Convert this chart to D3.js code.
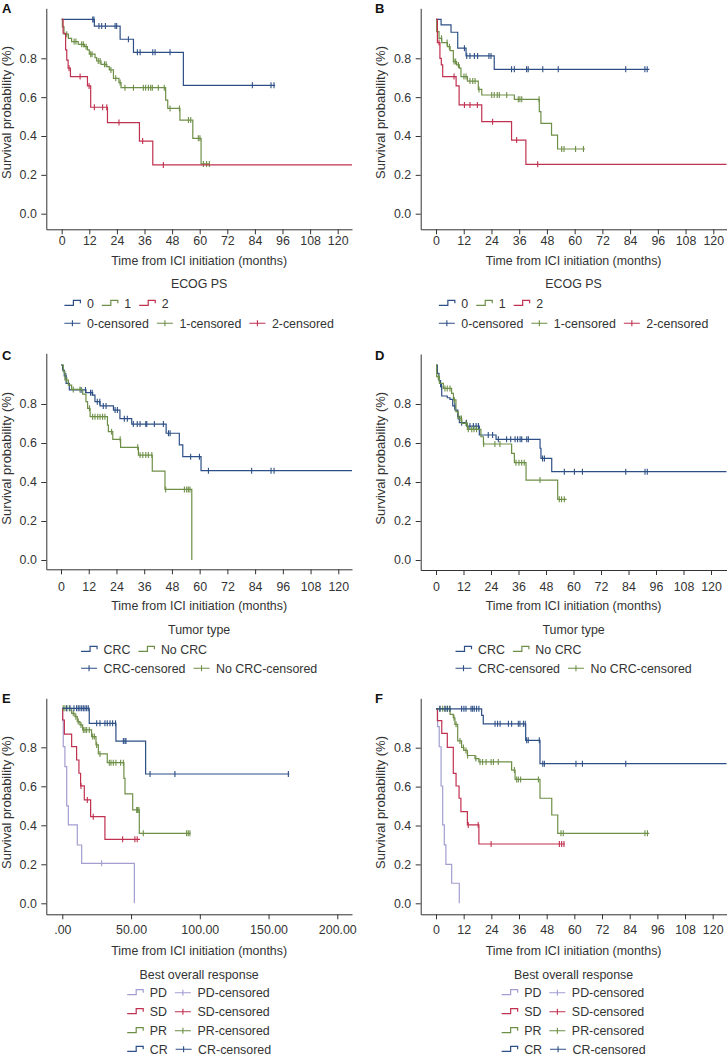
<!DOCTYPE html>
<html>
<head>
<meta charset="utf-8">
<script src="https://cdn.jsdelivr.net/npm/d3@7"></script>
<style>
body { margin: 0; background: #fff; }
svg text { font-family: "Liberation Sans", Arial, sans-serif; fill: #333; }
</style>
</head>
<body>
<script>
// ---------- data ----------
const monthTicks = [0, 12, 24, 36, 48, 60, 72, 84, 96, 108, 120];
const monthLabels = ["0", "12", "24", "36", "48", "60", "72", "84", "96", "108", "120"];
const monthTicksE = [0, 50, 100, 150, 200];
const monthLabelsE = [".00", "50.00", "100.00", "150.00", "200.00"];
const survTicks = [0, 0.2, 0.4, 0.6, 0.8];
const xTitle = "Time from ICI initiation (months)";
const yTitle = "Survival probability (%)";

const ecogGroups = ["0", "1", "2"];
const tumorGroups = ["CRC", "No CRC"];
const responseGroups = ["PD", "SD", "PR", "CR"];

// steps: [month, survival from that month on]; last pair = end of follow-up
// censored: months of censor marks

// A - ECOG PS
const aEcog0Steps = [[0,1],[14.2,0.966],[25.4,0.898],[31.2,0.831],[52.9,0.661],[92.8,0.661]];
const aEcog0Censored = [13.5,14.0,16.2,17.4,19.0,23.2,23.9,29.0,32.9,34.1,39.6,40.6,47.1,82.9,91.0,92.3];
const aEcog1Steps = [[0,1],[0.3,0.962],[1.0,0.924],[2.9,0.903],[4.3,0.886],[7.2,0.872],[9.9,0.86],[11.2,0.843],[12.0,0.821],[14.5,0.803],[15.2,0.786],[17.1,0.769],[19.6,0.757],[20.7,0.74],[22.5,0.697],[24.9,0.675],[25.8,0.649],[45.2,0.585],[46.1,0.542],[51.4,0.482],[57.0,0.388],[60.6,0.256],[64.2,0.256]];
const aEcog1Censored = [2.2,5.4,6.2,8.7,9.4,10.6,12.6,13.2,15.9,16.7,18.6,19.3,21.4,23.5,25.4,27.5,31.2,35.5,36.5,37.7,38.7,39.4,42.0,44.6,47.1,51.2,55.1,56.1,59.4,60.1,61.6,63.0,64.2];
const aEcog2Steps = [[0,1],[0.6,0.929],[1.7,0.843],[2.2,0.791],[2.8,0.749],[3.8,0.706],[11.2,0.658],[12.6,0.548],[19.9,0.469],[33.8,0.374],[39.6,0.251],[127,0.251]];
const aEcog2Censored = [3.2,8.0,11.9,14.2,17.8,19.6,24.9,35.2,44.2];

// B - ECOG PS
const bEcog0Steps = [[0,1],[2.2,0.972],[6.5,0.934],[9.4,0.852],[13.0,0.812],[25.2,0.743],[92.3,0.743]];
const bEcog0Censored = [12.3,13.3,14.7,16.6,18.0,22.9,23.8,32.7,33.9,39.2,39.9,46.2,52.9,82.1,90.4,91.4];
const bEcog1Steps = [[0,1],[0.3,0.937],[1.3,0.903],[2.5,0.881],[4.9,0.86],[6.1,0.839],[7.5,0.783],[8.9,0.766],[10.1,0.749],[10.8,0.706],[13.6,0.683],[18.3,0.64],[19.8,0.611],[33.9,0.589],[44.7,0.525],[45.4,0.465],[50.0,0.405],[52.6,0.333],[64.5,0.333]];
const bEcog1Censored = [2.4,4.8,5.8,7.8,8.5,9.7,12.1,13.0,14.7,15.9,16.9,18.6,24.1,25.2,26.5,27.4,30.6,35.6,36.3,37.1,44.6,54.4,55.4,60.4,63.8];
const bEcog2Steps = [[0,1],[0.6,0.881],[1.7,0.8],[2.3,0.766],[2.9,0.706],[8.7,0.658],[10.0,0.56],[19.8,0.474],[32.7,0.379],[38.9,0.254],[127,0.254]];
const bEcog2Censored = [1.3,7.8,12.3,14.7,17.9,24.5,34.9,44.0];

// C - tumor type
const cCrcSteps = [[0,1],[0.7,0.974],[1.4,0.944],[2.2,0.906],[3.6,0.872],[10.8,0.858],[13.7,0.846],[14.7,0.812],[16.9,0.79],[22.7,0.769],[25.5,0.725],[30.6,0.697],[45.5,0.65],[51.2,0.59],[52.7,0.53],[60.6,0.458],[127,0.458]];
const cCrcCensored = [2.1,8.7,10.6,12.8,13.5,15.7,16.8,18.3,19.5,23.4,24.4,27.4,28.7,31.3,33.0,34.2,36.7,37.1,40.4,44.3,46.5,47.2,56.1,59.9,63.8,82.5,90.9,92.2];
const cNoCrcSteps = [[0,1],[1.0,0.966],[1.7,0.923],[3.2,0.897],[4.6,0.875],[9.4,0.851],[10.8,0.812],[11.5,0.778],[12.6,0.735],[20.1,0.692],[20.5,0.658],[22.4,0.619],[25.8,0.578],[33.5,0.538],[39.5,0.456],[45.0,0.362],[56.6,0],[56.6,0]];
const cNoCrcCensored = [2.5,5.3,8.2,12.3,13.7,14.7,15.9,16.9,18.0,19.0,21.9,25.6,33.2,34.2,35.4,36.7,37.8,39.3,45.3,53.4,54.4,55.1,55.8];

// D - tumor type
const dCrcSteps = [[0,1],[0.6,0.957],[1.3,0.92],[2.0,0.889],[2.5,0.841],[4.9,0.832],[6.1,0.824],[7.3,0.79],[8.3,0.769],[9.5,0.735],[10.2,0.704],[13.4,0.687],[18.9,0.641],[26.2,0.619],[45.4,0.573],[45.8,0.521],[50.5,0.453],[127,0.453]];
const dCrcCensored = [2.4,8.2,9.7,11.2,13.3,14.8,16.3,17.5,18.5,22.8,24.7,27.2,30.8,32.6,34.5,35.6,36.7,37.4,39.6,40.3,46.5,47.3,56.0,60.4,63.9,82.8,91.2,92.2];
const dNoCrcSteps = [[0,1],[0.3,0.94],[1.5,0.906],[3.2,0.88],[6.8,0.855],[7.6,0.821],[8.7,0.761],[9.7,0.726],[11.2,0.701],[13.7,0.67],[19.6,0.632],[20.7,0.595],[33.0,0.547],[34.2,0.499],[39.3,0.41],[53.1,0.311],[57.0,0.311]];
const dNoCrcCensored = [1.0,3.9,4.9,6.1,8.0,10.5,11.1,13.1,14.1,15.6,16.6,17.7,20.8,25.7,27.9,34.9,36.2,37.4,38.5,45.4,53.8,54.8,56.0];

// E - best overall response
const ePdSteps = [[0,1],[0.2,0.94],[0.7,0.803],[1.9,0.701],[3.2,0.5],[4.4,0.402],[10.9,0.299],[14.1,0.205],[52.4,0],[52.4,0]];
const ePdCensored = [28.6];
const eSdSteps = [[0,1],[0.3,0.94],[1.5,0.868],[6.8,0.803],[10.4,0.735],[12.1,0.667],[13.3,0.602],[16.0,0.53],[20.6,0.444],[31.0,0.328],[56.5,0.328]];
const eSdCensored = [13.6,18.2,22.5,43.9,52.8,54.5];
const ePrSteps = [[0,1],[6.8,0.974],[9.2,0.957],[10.9,0.932],[12.8,0.915],[14.8,0.889],[21.3,0.855],[24.5,0.812],[26.2,0.766],[32.7,0.721],[44.8,0.641],[45.6,0.561],[51.2,0.479],[56.0,0.359],[93.3,0.359]];
const ePrCensored = [0.7,1.9,3.2,5.1,8.0,9.9,11.6,13.6,15.3,16.5,17.7,19.6,22.1,23.3,25.0,27.4,34.2,35.4,37.1,39.0,42.4,44.4,54.1,54.8,55.7,58.9,90.4,91.6,92.8];
const eCrSteps = [[0,1],[19.6,0.923],[39.0,0.832],[60.6,0.663],[165.1,0.663]];
const eCrCensored = [3.2,5.6,8.5,10.4,11.6,12.8,14.1,15.3,16.5,17.7,18.9,25.0,27.4,31.0,32.7,34.7,36.6,38.7,44.4,45.6,46.3,63.8,81.9,164.4];

// F - best overall response
const fPdSteps = [[0,1],[0.7,0.908],[1.4,0.805],[2.2,0.603],[2.9,0.403],[3.6,0.3],[4.3,0.2],[6.8,0.103],[10.1,0],[10.1,0]];
const fPdCensored = [];
const fSdSteps = [[0,1],[0.6,0.939],[2.5,0.874],[4.9,0.802],[7.5,0.668],[8.7,0.603],[10.0,0.54],[10.8,0.471],[13.6,0.403],[18.6,0.305],[55.9,0.305]];
const fSdCensored = [14.0,18.3,23.9,53.5,54.5,55.5];
const fPrSteps = [[0,1],[6.1,0.971],[7.5,0.954],[8.2,0.92],[9.4,0.835],[11.1,0.801],[12.1,0.786],[13.6,0.76],[16.9,0.744],[18.6,0.727],[32.8,0.685],[34.3,0.637],[45.1,0.54],[50.2,0.454],[52.8,0.36],[92.5,0.36]];
const fPrCensored = [1.7,2.9,3.9,4.9,5.8,7.8,8.7,10.4,11.9,13.0,13.7,17.3,19.1,20.2,21.7,23.9,24.9,27.0,34.0,35.0,35.7,36.7,44.4,54.2,55.2,90.6,91.7];
const fCrSteps = [[0,1],[19.8,0.966],[20.5,0.923],[38.9,0.838],[45.1,0.718],[127,0.718]];
const fCrCensored = [1.7,3.9,4.9,6.1,11.1,12.1,13.0,15.2,15.9,16.6,17.6,18.6,25.6,26.7,27.8,31.4,32.8,35.7,36.4,37.9,38.7,39.3,40.0,44.8,46.3,47.0,60.7,63.5,82.3];

// ---------- styling ----------
const blue = "#2d4f86", green = "#6e8f47", red = "#c0304f", lavender = "#a29ed0";
const fontSize = 12.4;

let svg = d3.select("body").append("svg")
    .attr("width", 727)
    .attr("height", 1059);

let panels = [
    { letter: "A", lx: 2, ly: 13.3, left: 46.3, right: 352, top: 8.3, bottom: 229.3, x0: 61.7, xRef: 337.7, xRefVal: 120, y0: 213.7, y08: 58.3,
      xTicks: monthTicks, xLabels: monthLabels, xPad: 1.5, yTitleY: 112.5, xTitleY: 260.7,
      legendTitle: "ECOG PS", legendTitleY: 283.8, rowsY: [303.3, 323.3], layout: "split",
      groups: ecogGroups, colors: [blue, green, red],
      steps: [aEcog0Steps, aEcog1Steps, aEcog2Steps], censored: [aEcog0Censored, aEcog1Censored, aEcog2Censored] },
    { letter: "B", lx: 375, ly: 13.3, left: 420.7, right: 726.5, top: 8.3, bottom: 229.3, x0: 436, xRef: 713.3, xRefVal: 120, y0: 213.7, y08: 58.3,
      xTicks: monthTicks, xLabels: monthLabels, xPad: 1.5, yTitleY: 112.5, xTitleY: 260.7,
      legendTitle: "ECOG PS", legendTitleY: 283.8, rowsY: [303.3, 323.3], layout: "split",
      groups: ecogGroups, colors: [blue, green, red],
      steps: [bEcog0Steps, bEcog1Steps, bEcog2Steps], censored: [bEcog0Censored, bEcog1Censored, bEcog2Censored] },
    { letter: "C", lx: 2, ly: 360, left: 46.3, right: 352, top: 353.3, bottom: 569.3, x0: 61, xRef: 338.3, xRefVal: 120, y0: 560, y08: 404,
      xTicks: monthTicks, xLabels: monthLabels, xPad: 7.5, yTitleY: 458.3, xTitleY: 605.7,
      legendTitle: "Tumor type", legendTitleY: 630, rowsY: [649.3, 668.3], layout: "split",
      groups: tumorGroups, colors: [blue, green],
      steps: [cCrcSteps, cNoCrcSteps], censored: [cCrcCensored, cNoCrcCensored] },
    { letter: "D", lx: 375, ly: 360, left: 420.7, right: 726.5, top: 354, bottom: 570, x0: 436, xRef: 711, xRefVal: 120, y0: 560, y08: 404,
      xTicks: monthTicks, xLabels: monthLabels, xPad: 7, yTitleY: 458.3, xTitleY: 605.7,
      legendTitle: "Tumor type", legendTitleY: 630, rowsY: [649.3, 668.3], layout: "split",
      groups: tumorGroups, colors: [blue, green],
      steps: [dCrcSteps, dNoCrcSteps], censored: [dCrcCensored, dNoCrcCensored] },
    { letter: "E", lx: 2, ly: 703.3, left: 46.3, right: 352, top: 698.3, bottom: 914.3, x0: 62.3, xRef: 337.3, xRefVal: 200, y0: 903.3, y08: 747.3,
      xTicks: monthTicksE, xLabels: monthLabelsE, xPad: 6, yTitleY: 802.5, xTitleY: 950.7,
      legendTitle: "Best overall response", legendTitleY: 974.3, rowsY: [992.7, 1011.7, 1030.7, 1049.3], layout: "paired",
      groups: responseGroups, colors: [lavender, red, green, blue],
      steps: [ePdSteps, eSdSteps, ePrSteps, eCrSteps], censored: [ePdCensored, eSdCensored, ePrCensored, eCrCensored] },
    { letter: "F", lx: 375, ly: 702.7, left: 420.7, right: 726.5, top: 698.3, bottom: 914.3, x0: 436, xRef: 712.7, xRefVal: 120, y0: 903.3, y08: 747.7,
      xTicks: monthTicks, xLabels: monthLabels, xPad: 6, yTitleY: 802.5, xTitleY: 950.7,
      legendTitle: "Best overall response", legendTitleY: 974.3, rowsY: [992.7, 1011.7, 1030.7, 1049.3], layout: "paired",
      groups: responseGroups, colors: [lavender, red, green, blue],
      steps: [fPdSteps, fSdSteps, fPrSteps, fCrSteps], censored: [fPdCensored, fSdCensored, fPrCensored, fCrCensored] }
];

function survivalAt(steps, t) {
    let s = steps[0][1];
    steps.forEach(d => { if (d[0] <= t) s = d[1]; });
    return s;
}

function stepSymbol(g, x, y, color) {
    g.append("path")
        .attr("d", `M${x},${y + 2}H${x + 9}V${y - 3}H${x + 16}V${y}`)
        .attr("fill", "none")
        .attr("stroke", color)
        .attr("stroke-width", 1.2);
}

function censorSymbol(g, x, y, color) {
    g.append("path")
        .attr("d", `M${x},${y}H${x + 16}M${x + 8},${y - 3}V${y + 3}`)
        .attr("fill", "none")
        .attr("stroke", color)
        .attr("stroke-width", 1.1);
}

function drawLegend(p) {
    let cx = (p.left + p.right) / 2;
    let gap = 8;
    svg.append("text")
        .attr("x", cx).attr("y", p.legendTitleY).attr("dy", "0.35em")
        .attr("text-anchor", "middle")
        .style("font-size", fontSize + "px")
        .text(p.legendTitle);

    let rows = [];
    if (p.layout === "split") {
        rows.push(p.groups.map((g, i) => ({ kind: "step", label: g, color: p.colors[i] })));
        rows.push(p.groups.map((g, i) => ({ kind: "cens", label: g + "-censored", color: p.colors[i] })));
    } else {
        p.groups.forEach((g, i) => rows.push([
            { kind: "step", label: g, color: p.colors[i] },
            { kind: "cens", label: g + "-censored", color: p.colors[i] }
        ]));
    }

    let block = svg.append("g");
    let maxW = 0;
    rows.forEach((row, r) => {
        let y = p.rowsY[r];
        let cursor = 0;
        row.forEach(item => {
            if (item.kind === "step") stepSymbol(block, cursor, y, item.color);
            else censorSymbol(block, cursor, y, item.color);
            let t = block.append("text")
                .attr("x", cursor + 22.5).attr("y", y).attr("dy", "0.35em")
                .style("font-size", fontSize + "px")
                .text(item.label);
            cursor += 22.5 + t.node().getComputedTextLength() + gap;
        });
        maxW = Math.max(maxW, cursor - gap);
    });
    block.attr("transform", `translate(${cx - maxW / 2},0)`);
}

function drawPanel(p, idx) {
    let x = d3.scaleLinear().domain([0, p.xRefVal]).range([p.x0, p.xRef]);
    x.domain([x.invert(p.left), x.invert(p.right)]).range([p.left, p.right]);
    let y = d3.scaleLinear().domain([0, 0.8]).range([p.y0, p.y08]);
    y.domain([y.invert(p.bottom), y.invert(p.top)]).range([p.bottom, p.top]);

    svg.append("clipPath").attr("id", "clip" + idx)
        .append("rect")
        .attr("x", p.left).attr("y", p.top - 5)
        .attr("width", p.right - p.left).attr("height", p.bottom - p.top + 10);

    let xAxis = d3.axisBottom(x).tickValues(p.xTicks)
        .tickFormat((d, i) => p.xLabels[i])
        .tickSize(5).tickSizeOuter(0).tickPadding(p.xPad);
    let yAxis = d3.axisLeft(y).tickValues(survTicks)
        .tickFormat(d3.format(".1f"))
        .tickSize(5).tickSizeOuter(0).tickPadding(4.5);

    svg.append("g")
        .attr("transform", `translate(0,${p.bottom})`)
        .call(xAxis)
        .call(g => g.attr("font-size", null).attr("font-family", null))
        .call(g => g.selectAll("text").style("font-size", fontSize + "px"))
        .call(g => g.selectAll("line,path").attr("stroke", "#333"));

    svg.append("g")
        .attr("transform", `translate(${p.left},0)`)
        .call(yAxis)
        .call(g => g.attr("font-size", null).attr("font-family", null))
        .call(g => g.selectAll("text").style("font-size", fontSize + "px"))
        .call(g => g.selectAll("line,path").attr("stroke", "#333"));

    // titles
    svg.append("text")
        .attr("x", (p.left + p.right) / 2).attr("y", p.xTitleY).attr("dy", "0.35em")
        .attr("text-anchor", "middle")
        .style("font-size", fontSize + "px")
        .text(xTitle);

    svg.append("text")
        .attr("transform", `translate(${p.left - 35.3},${p.yTitleY}) rotate(-90)`)
        .attr("text-anchor", "middle")
        .style("font-size", "13px")
        .text(yTitle);

    svg.append("text")
        .attr("x", p.lx).attr("y", p.ly)
        .style("font-size", "13px")
        .style("font-weight", "bold")
        .style("fill", "#111")
        .text(p.letter);

    // curves
    let line = d3.line().curve(d3.curveStepAfter)
        .x(d => x(d[0]))
        .y(d => y(d[1]));

    let plot = svg.append("g").attr("clip-path", `url(#clip${idx})`);

    p.steps.forEach((steps, i) => {
        plot.append("path")
            .datum(steps)
            .attr("d", line)
            .attr("fill", "none")
            .attr("stroke", p.colors[i])
            .attr("stroke-width", 1.2);

        plot.selectAll(null)
            .data(p.censored[i])
            .enter()
            .append("line")
            .attr("x1", d => x(d))
            .attr("x2", d => x(d))
            .attr("y1", d => y(survivalAt(steps, d)) - 3)
            .attr("y2", d => y(survivalAt(steps, d)) + 3)
            .attr("stroke", p.colors[i])
            .attr("stroke-width", 1.1);
    });

    drawLegend(p);
}

panels.forEach((p, i) => drawPanel(p, i));
</script>
</body>
</html>
